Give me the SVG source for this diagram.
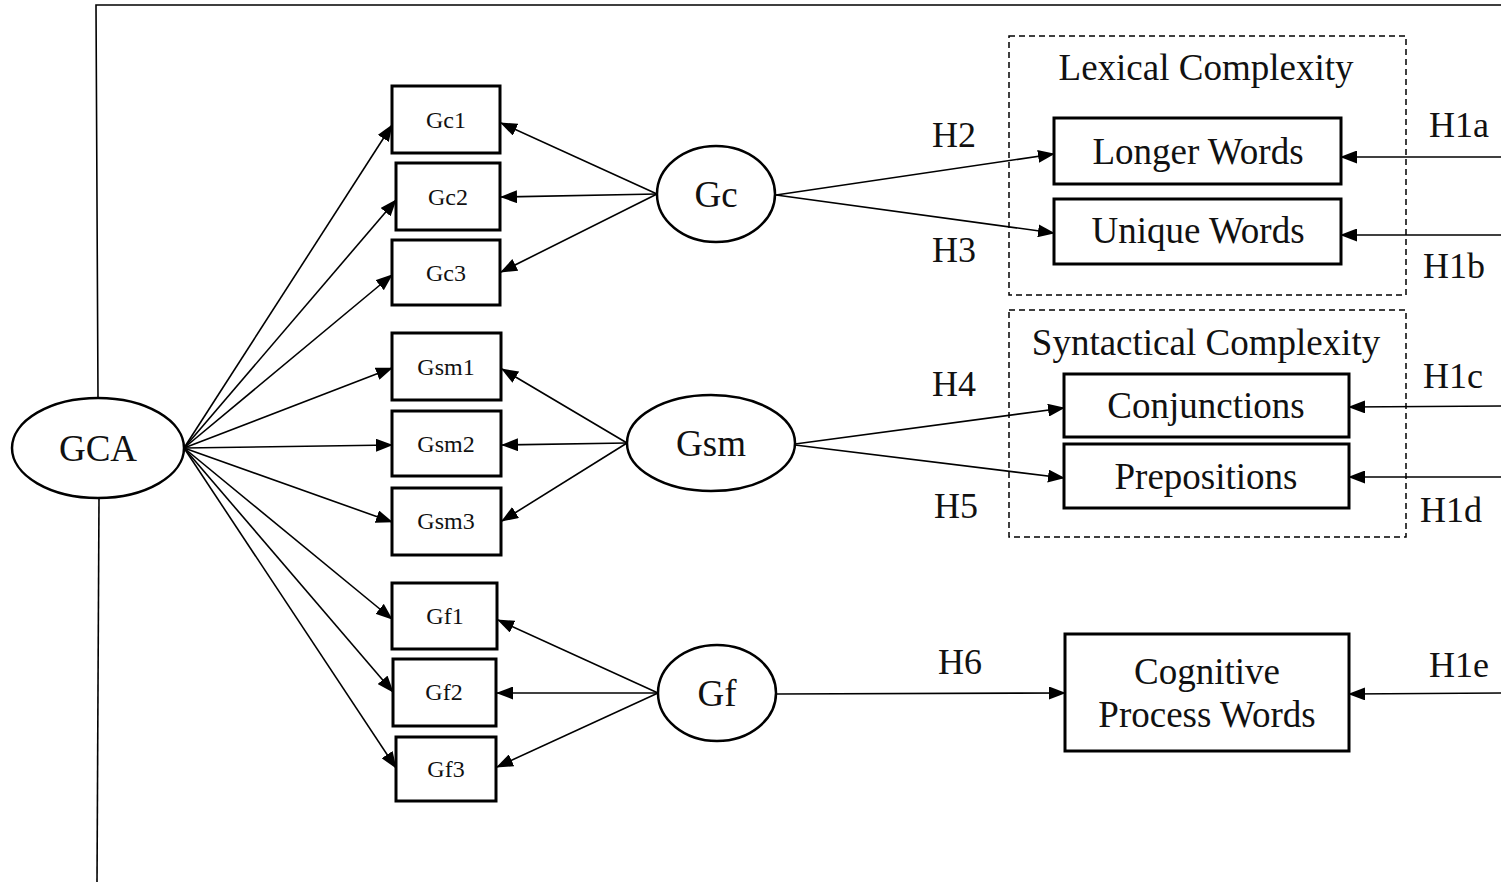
<svg xmlns="http://www.w3.org/2000/svg" width="1501" height="882" viewBox="0 0 1501 882">
<style>
.box{fill:#fff;stroke:#000;stroke-width:3}
.ell{fill:#fff;stroke:#000;stroke-width:2.5}
.grp{fill:none;stroke:#000;stroke-width:1.5;stroke-dasharray:6 4}
.ln{fill:none;stroke:#000;stroke-width:1.6;marker-end:url(#ah)}
.fr{fill:none;stroke:#000;stroke-width:1.6}
text{font-family:"Liberation Serif","Times New Roman",serif;fill:#111;text-anchor:middle}
.big{font-size:37px}
.sm{font-size:24px}
.lbl{font-size:36px;text-anchor:start}
</style>
<defs>
<marker id="ah" markerUnits="userSpaceOnUse" markerWidth="17" markerHeight="13" viewBox="0 0 17 13" refX="16" refY="6.5" orient="auto">
<path d="M0,0 L17,6.5 L0,13 Z" fill="#000"/>
</marker>
</defs>
<rect width="1501" height="882" fill="#fff"/>
<g id="frame">
<path class="fr" d="M1501,5 L96,5 L98,398"/>
<path class="fr" d="M99,498 L97,882"/>
</g>
<g id="groups">
<rect class="grp" x="1009" y="36" width="397" height="259"/>
<rect class="grp" x="1009" y="310" width="397" height="227"/>
</g>
<g id="connectors">
<line class="ln" x1="184" y1="448" x2="392" y2="125"/>
<line class="ln" x1="184" y1="448" x2="396" y2="200"/>
<line class="ln" x1="184" y1="448" x2="392" y2="275"/>
<line class="ln" x1="184" y1="448" x2="392" y2="368"/>
<line class="ln" x1="184" y1="448" x2="392" y2="445"/>
<line class="ln" x1="184" y1="448" x2="392" y2="522"/>
<line class="ln" x1="184" y1="448" x2="392" y2="619"/>
<line class="ln" x1="184" y1="448" x2="393" y2="692"/>
<line class="ln" x1="184" y1="448" x2="396" y2="768"/>
<line class="ln" x1="657" y1="194" x2="501" y2="123"/>
<line class="ln" x1="657" y1="194" x2="501" y2="197"/>
<line class="ln" x1="657" y1="194" x2="501" y2="272"/>
<line class="ln" x1="627" y1="443" x2="502" y2="369"/>
<line class="ln" x1="627" y1="443" x2="502" y2="445"/>
<line class="ln" x1="627" y1="443" x2="502" y2="521"/>
<line class="ln" x1="658" y1="693" x2="498" y2="620"/>
<line class="ln" x1="658" y1="693" x2="497" y2="693"/>
<line class="ln" x1="658" y1="693" x2="497" y2="767"/>
<line class="ln" x1="776" y1="195" x2="1054" y2="154"/>
<line class="ln" x1="776" y1="195" x2="1054" y2="233"/>
<line class="ln" x1="795" y1="444" x2="1064" y2="408"/>
<line class="ln" x1="795" y1="445" x2="1064" y2="478"/>
<line class="ln" x1="776" y1="694" x2="1065" y2="693"/>
<line class="ln" x1="1501" y1="157" x2="1341" y2="157"/>
<line class="ln" x1="1501" y1="235" x2="1341" y2="235"/>
<line class="ln" x1="1501" y1="406" x2="1349" y2="407"/>
<line class="ln" x1="1501" y1="477" x2="1349" y2="477"/>
<line class="ln" x1="1501" y1="693" x2="1349" y2="694"/>
</g>
<g id="labels">
<text class="lbl" x="932" y="147">H2</text>
<text class="lbl" x="932" y="262">H3</text>
<text class="lbl" x="932" y="396">H4</text>
<text class="lbl" x="934" y="518">H5</text>
<text class="lbl" x="938" y="674">H6</text>
<text class="lbl" x="1429" y="137">H1a</text>
<text class="lbl" x="1423" y="278">H1b</text>
<text class="lbl" x="1423" y="388">H1c</text>
<text class="lbl" x="1420" y="522">H1d</text>
<text class="lbl" x="1429" y="677">H1e</text>
<text class="big" x="1206" y="80">Lexical Complexity</text>
<text class="big" x="1206" y="355">Syntactical Complexity</text>
</g>
<g id="GCA"><ellipse class="ell" cx="98" cy="448" rx="86" ry="50"/><text class="big" x="98" y="461">GCA</text></g>
<g id="Gc"><ellipse class="ell" cx="716" cy="194" rx="59" ry="48"/><text class="big" x="716" y="207">Gc</text></g>
<g id="Gsm"><ellipse class="ell" cx="711" cy="443" rx="84" ry="48"/><text class="big" x="711" y="456">Gsm</text></g>
<g id="Gf"><ellipse class="ell" cx="717" cy="693" rx="59" ry="48"/><text class="big" x="717" y="706">Gf</text></g>
<g id="Gc1"><rect class="box" x="392" y="86" width="108" height="67"/><text class="sm" x="446" y="128">Gc1</text></g>
<g id="Gc2"><rect class="box" x="396" y="163" width="104" height="67"/><text class="sm" x="448" y="205">Gc2</text></g>
<g id="Gc3"><rect class="box" x="392" y="240" width="108" height="65"/><text class="sm" x="446" y="281">Gc3</text></g>
<g id="Gsm1"><rect class="box" x="392" y="333" width="109" height="67"/><text class="sm" x="446" y="375">Gsm1</text></g>
<g id="Gsm2"><rect class="box" x="392" y="411" width="109" height="65"/><text class="sm" x="446" y="452">Gsm2</text></g>
<g id="Gsm3"><rect class="box" x="392" y="488" width="109" height="67"/><text class="sm" x="446" y="529">Gsm3</text></g>
<g id="Gf1"><rect class="box" x="392" y="583" width="105" height="66"/><text class="sm" x="445" y="624">Gf1</text></g>
<g id="Gf2"><rect class="box" x="393" y="659" width="103" height="67"/><text class="sm" x="444" y="700">Gf2</text></g>
<g id="Gf3"><rect class="box" x="396" y="737" width="100" height="64"/><text class="sm" x="446" y="777">Gf3</text></g>
<g id="LongerWords"><rect class="box" x="1054" y="118" width="287" height="66"/><text class="big" x="1198" y="164">Longer Words</text></g>
<g id="UniqueWords"><rect class="box" x="1054" y="199" width="287" height="65"/><text class="big" x="1198" y="243">Unique Words</text></g>
<g id="Conjunctions"><rect class="box" x="1064" y="374" width="285" height="63"/><text class="big" x="1206" y="418">Conjunctions</text></g>
<g id="Prepositions"><rect class="box" x="1064" y="444" width="285" height="64"/><text class="big" x="1206" y="489">Prepositions</text></g>
<g id="CognitiveProcessWords"><rect class="box" x="1065" y="634" width="284" height="117"/><text class="big" x="1207" y="684">Cognitive</text><text class="big" x="1207" y="727">Process Words</text></g>
</svg>
